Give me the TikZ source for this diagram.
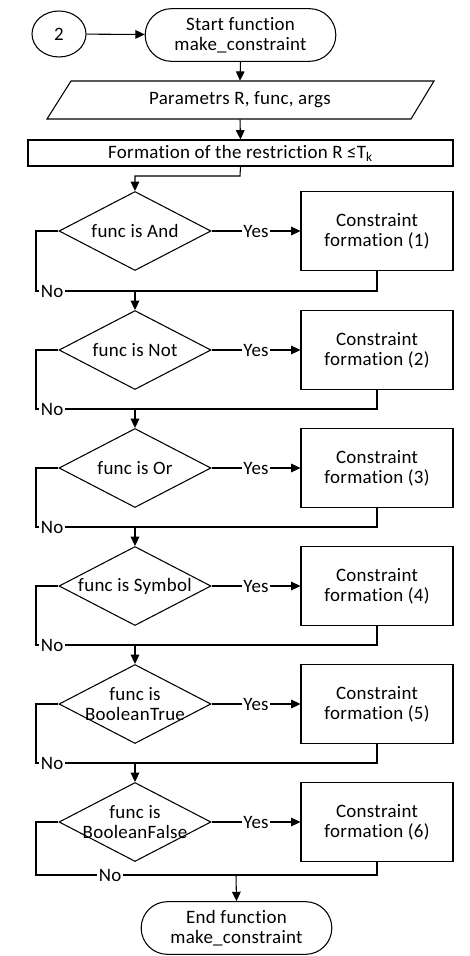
\documentclass[tikz,border=0pt]{standalone}
\usepackage{fontspec}
\setmainfont[Ligatures=NoCommon,LetterSpace=1.5]{Carlito}
\usetikzlibrary{shapes.geometric,shapes.misc,arrows.meta}
\begin{document}
\begin{tikzpicture}[x=0.75pt,y=-0.75pt,
 every node/.style={font=\fontsize{14.2}{15}\selectfont},
 line/.style={line width=0.8pt},
 arr/.style={line, -{Triangle[length=7pt,width=6.5pt]}},
 term/.style={rounded rectangle, draw, line width=0.8pt, minimum width=143pt, minimum height=39.5pt, align=center, inner sep=0pt},
 dec/.style={diamond, draw, line width=0.8pt, minimum width=114pt, minimum height=59.25pt, inner sep=0pt},
 proc/.style={rectangle, draw, line width=0.8pt, minimum width=114pt, minimum height=59.25pt, align=center, inner sep=0pt},
 lbl/.style={fill=white, inner sep=1pt}
]
\useasboundingbox (0,0) rectangle (469,956);

\node[ellipse, draw, line width=0.8pt, minimum width=40.5pt, minimum height=34.5pt, inner sep=0pt] (c2) at (59,34) {2};
\node[term] (start) at (240.5,35) {Start function\\make\_constraint};
\draw[arr] (c2) -- (start);

\node[minimum width=300pt, minimum height=28.5pt, inner sep=0pt] (par) at (240,100) {Parametrs R, func, args};
\draw[line] (71,81) -- (434,81) -- (411,119) -- (47,119) -- cycle;
\draw[arr] (start.south) -- (par.north);

\node[draw, line width=0.8pt, minimum width=318.75pt, minimum height=19.5pt, inner sep=0pt] (form) at (240.5,153) {Formation of the restriction R ≤T\textsubscript{k}};
\draw[arr] (par.south) -- (form.north);

\coordinate (m) at (240,176);

\foreach \i/\cy/\txt in {1/231/{func is And}, 2/350/{func is Not}, 3/468/{func is Or}, 4/586/{func is Symbol}, 5/704/{func is\\BooleanTrue}, 6/822/{func is\\BooleanFalse}} {
  \node[dec, label={[align=center]center:\txt}] (d\i) at (135,\cy) {};
  \node[proc] (p\i) at (377,\cy) {Constraint\\formation (\i)};
  \draw[arr] (d\i.east) -- (p\i.west);
  \node[lbl] (y\i) at (256,\cy) {Yes};
}
\draw[arr] (form.south) -- (m) -| (d1.north);

\foreach \i/\ny in {1/291, 2/409, 3/527, 4/645, 5/763} {
  \coordinate (l\i) at (36,\ny);
  \coordinate (k\i) at (377,\ny);
  \coordinate (j\i) at (135,\ny);
  \draw[line] (d\i.west) -| (l\i) -- (k\i) -- (p\i.south);
  \node[lbl] (n\i) at (52,\ny) {No};
}
\foreach \i/\j in {1/2, 2/3, 3/4, 4/5, 5/6} {
  \draw[arr] (j\i) -- (d\j.north);
}

\coordinate (l6) at (36,875);
\coordinate (k6) at (377,875);
\coordinate (j6) at (236,875);
\draw[line] (d6.west) -| (l6) -- (k6) -- (p6.south);
\node[lbl] (n6) at (110,875) {No};

\node[term] (end) at (236.5,928) {End function\\make\_constraint};
\draw[arr] (j6) -- (end.north);
\end{tikzpicture}
\end{document}
